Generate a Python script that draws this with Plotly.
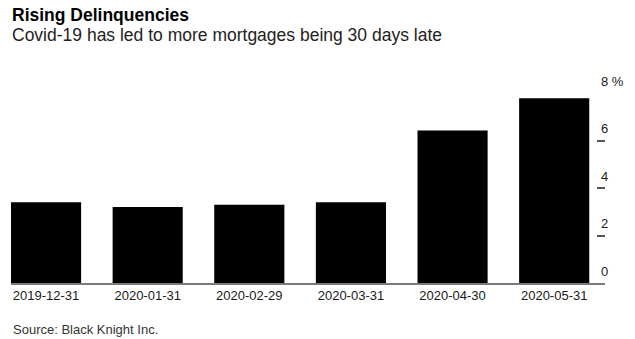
import plotly.graph_objects as go

# Share of mortgages 30+ days delinquent, month-end (percent)
months = ["2019-12-31", "2020-01-31", "2020-02-29", "2020-03-31", "2020-04-30", "2020-05-31"]
delinquency_pct = [3.40, 3.20, 3.29, 3.40, 6.42, 7.78]

y_ticks = [0, 2, 4, 6, 8]
y_tick_text = ["0", "2", "4", "6", "8 %"]

W, H = 635, 339
L, R, T, B = 11, 25, 93, 56
plot_h = H - T - B

FONT = "Liberation Sans, Arial, sans-serif"

fig = go.Figure(
    go.Bar(
        x=list(range(len(months))),
        y=delinquency_pct,
        marker=dict(color="#000000", line=dict(width=0)),
        width=0.69,
        hoverinfo="skip",
    )
)

fig.update_layout(
    width=W,
    height=H,
    margin=dict(l=L, r=R, t=T, b=B, pad=0),
    paper_bgcolor="white",
    plot_bgcolor="white",
    showlegend=False,
    bargap=0.31,
    font=dict(family=FONT, color="#222222"),
)

fig.update_xaxes(
    range=[-0.345, 5.5],
    tickmode="array",
    tickvals=list(range(len(months))),
    ticktext=months,
    showgrid=False,
    zeroline=False,
    showline=True,
    linecolor="#7a7a7a",
    linewidth=1.5,
    ticks="",
    tickfont=dict(size=13, color="#1a1a1a"),
    fixedrange=True,
)

fig.update_yaxes(
    range=[0, 8],
    side="right",
    tickmode="array",
    tickvals=y_ticks,
    ticktext=y_tick_text,
    showgrid=False,
    zeroline=False,
    showline=False,
    ticks="inside",
    ticklen=8,
    tickwidth=1.5,
    tickcolor="#555555",
    ticklabelposition="outside",
    ticklabelstandoff=-5,
    ticklabelshift=-12,
    tickfont=dict(size=13, color="#1a1a1a"),
    fixedrange=True,
)


def py(px):
    """Convert a pixel row to paper y coordinate."""
    return (H - B - px) / plot_h


fig.add_annotation(
    text="<b>Rising Delinquencies</b>",
    xref="paper", yref="paper", x=0, y=py(15.4),
    xanchor="left", yanchor="middle", showarrow=False, borderpad=0,
    font=dict(size=17.5, color="#000000", family=FONT),
)
fig.add_annotation(
    text="Covid-19 has led to more mortgages being 30 days late",
    xref="paper", yref="paper", x=0, y=py(35),
    xanchor="left", yanchor="middle", showarrow=False, borderpad=0,
    font=dict(size=17.5, color="#222222", family=FONT),
)
fig.add_annotation(
    text="Source: Black Knight Inc.",
    xref="paper", yref="paper", x=0, y=py(329.5),
    xanchor="left", yanchor="middle", showarrow=False,
    font=dict(size=13, color="#333333", family=FONT),
)

fig.write_html("out.html")
